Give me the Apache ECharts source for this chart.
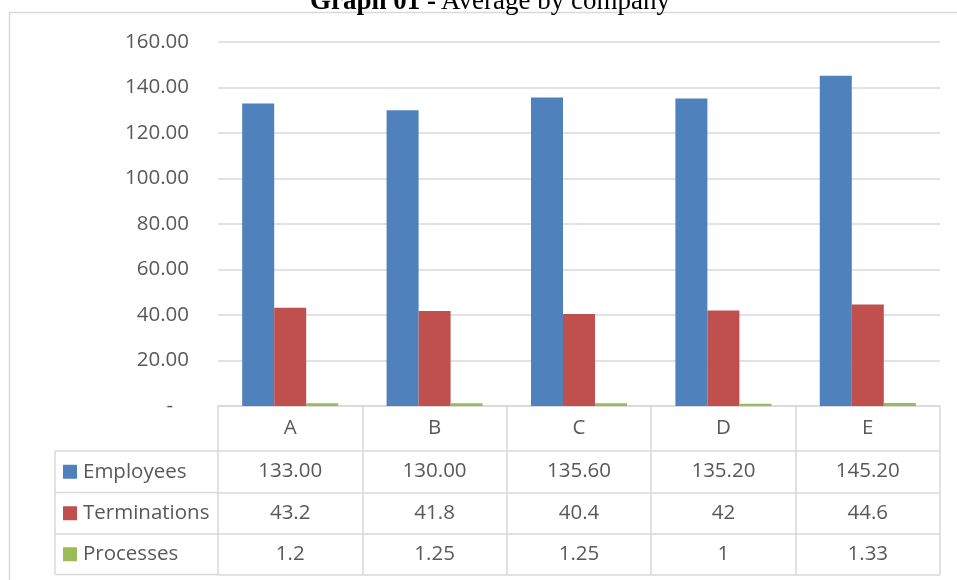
<!DOCTYPE html>
<html>
<head>
<meta charset="utf-8">
<script src="https://cdn.jsdelivr.net/npm/echarts@6/dist/echarts.min.js"></script>
<style>
html,body{margin:0;padding:0;background:#fff;}
#main{width:957px;height:580px;}
</style>
</head>
<body>
<div id="main"></div>
<script>
// 数据
var companies = ['A', 'B', 'C', 'D', 'E'];
var employees = [133.00, 130.00, 135.60, 135.20, 145.20];
var terminations = [43.2, 41.8, 40.4, 42, 44.6];
var processes = [1.2, 1.25, 1.25, 1, 1.33];
var seriesNames = ['Employees', 'Terminations', 'Processes'];
var colors = ['#4F81BD', '#C0504D', '#9BBB59'];
var yTicks = [0, 20, 40, 60, 80, 100, 120, 140, 160];

var myChart = echarts.init(document.getElementById('main'));

var gridLeft = 218, gridRight = 17, gridTop = 42, gridBottom = 174;
var axisY = 580 - gridBottom;           // 406
var rowLines = [451, 492.5, 534, 574.5]; // 表格横线
var lineColor = '#d9d9d9';
var txtColor = '#595959';
var font = 'Open Sans';
var fs = 20.5;

// 表格的一行（用额外的x轴画）
function rowAxis(offset, values, fmt) {
	return {
		type: 'category',
		position: 'bottom',
		offset: offset,
		data: companies,
		axisLine: { show: true, lineStyle: { color: lineColor, width: 1.5 } },
		axisTick: { show: false },
		axisLabel: {
			show: values != null,
			interval: 0,
			margin: 10.5,
			fontFamily: font,
			fontSize: fs,
			lineHeight: 20,
			color: txtColor,
			formatter: function (v, i) {
				return values ? fmt(values[i]) : '';
			}
		}
	};
}

var graphics = [];
// 外框
graphics.push({
	type: 'rect', shape: { x: 9.5, y: 12.5, width: 960, height: 600 },
	style: { fill: null, stroke: lineColor, lineWidth: 1.5 }, silent: true
});
// 左侧图例列
graphics.push({
	type: 'line', shape: { x1: 55, y1: rowLines[0], x2: 55, y2: rowLines[3] },
	style: { stroke: lineColor, lineWidth: 1.5 }
});
for (var r = 0; r < rowLines.length; r++) {
	graphics.push({
		type: 'line', shape: { x1: 55, y1: rowLines[r], x2: gridLeft, y2: rowLines[r] },
		style: { stroke: lineColor, lineWidth: 1.5 }
	});
}
for (var s = 0; s < seriesNames.length; s++) {
	var cy = (rowLines[s] + rowLines[s + 1]) / 2;
	graphics.push({
		type: 'rect', shape: { x: 63, y: cy - 7, width: 14, height: 14 },
		style: { fill: colors[s] }
	});
	graphics.push({
		type: 'text', x: 83, y: cy,
		style: { text: seriesNames[s], fill: txtColor, font: fs + 'px "' + font + '"', verticalAlign: 'middle', align: 'left' }
	});
}

option = {
	animation: false,
	title: {
		text: '{b|Graph 01 -} {n|Average by company}',
		left: 310,
		top: -11,
		padding: 0,
		textStyle: {
			rich: {
				b: { fontFamily: 'Liberation Serif', fontWeight: 'bold', fontSize: 27, lineHeight: 26, color: '#000' },
				n: { fontFamily: 'Liberation Serif', fontWeight: 'normal', fontSize: 27, lineHeight: 26, color: '#000' }
			}
		}
	},
	grid: { left: gridLeft, right: gridRight, top: gridTop, bottom: gridBottom, containLabel: false },
	xAxis: [
		{
			type: 'category',
			data: companies,
			position: 'bottom',
			axisLine: { show: true, lineStyle: { color: lineColor, width: 1.5 } },
			axisTick: { show: true, interval: 0, length: rowLines[3] - axisY, lineStyle: { color: lineColor, width: 1.5 } },
			axisLabel: { interval: 0, margin: 12.5, fontFamily: font, fontSize: fs, lineHeight: 20, color: txtColor }
		},
		rowAxis(rowLines[0] - axisY, employees, function (v) { return v.toFixed(2); }),
		rowAxis(rowLines[1] - axisY, terminations, function (v) { return String(v); }),
		rowAxis(rowLines[2] - axisY, processes, function (v) { return String(v); }),
		rowAxis(rowLines[3] - axisY, null, null)
	],
	yAxis: {
		type: 'value',
		min: yTicks[0],
		max: yTicks[yTicks.length - 1],
		interval: 20,
		axisLine: { show: false },
		axisTick: { show: false },
		splitLine: { lineStyle: { color: lineColor, width: 1.5 } },
		axisLabel: {
			margin: 29,
			fontFamily: font,
			fontSize: fs,
			color: txtColor,
			formatter: function (v) { return v === 0 ? '-   ' : v.toFixed(2); }
		}
	},
	series: [
		{ name: seriesNames[0], type: 'bar', data: employees, barGap: '0%', barCategoryGap: '33.5%', itemStyle: { color: colors[0] } },
		{ name: seriesNames[1], type: 'bar', data: terminations, barGap: '0%', barCategoryGap: '33.5%', itemStyle: { color: colors[1] } },
		{ name: seriesNames[2], type: 'bar', data: processes, barGap: '0%', barCategoryGap: '33.5%', itemStyle: { color: colors[2] } }
	],
	graphic: graphics
};
myChart.setOption(option);
</script>
</body>
</html>
